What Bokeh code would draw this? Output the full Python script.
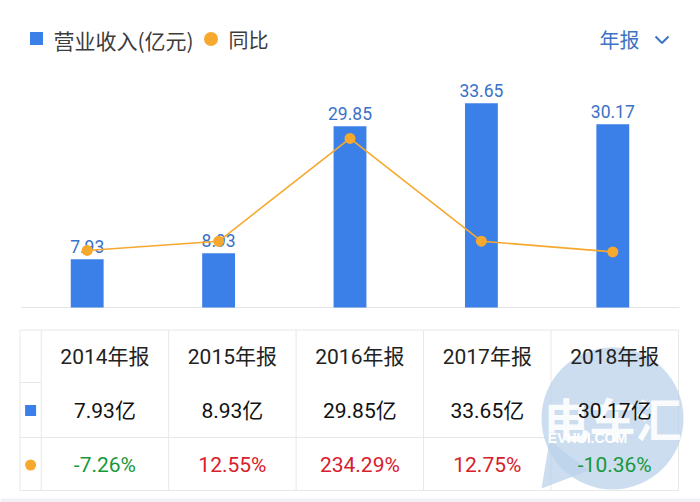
from bokeh.plotting import figure
from bokeh.models import Range1d, ColumnDataSource
from bokeh.core.properties import value
from bokeh.embed import file_html
from bokeh.resources import INLINE

# ---------------- data ----------------
years = ["2014年报", "2015年报", "2016年报", "2017年报", "2018年报"]
revenue = [7.93, 8.93, 29.85, 33.65, 30.17]          # 营业收入(亿元)
yoy = [-7.26, 12.55, 234.29, 12.75, -10.36]          # 同比 (%)

legend_bar = "营业收入(亿元)"
legend_line = "同比"
period_label = "年报"

# ---------------- layout constants (window pixels) ----------------
W, H = 700, 502
OX, OY = 0, 0
CH_L, CH_R = 21, 678
BASE_Y = 307
PX_PER_UNIT = 6.07
PCT_ZERO_Y = 246.6
PX_PER_PCT = 0.4637

CJK = value("Noto Sans CJK SC")
MIXED = value("Roboto, 'Noto Sans CJK SC'")
ROBOTO = value("Roboto")

BLUE = "#3b7fe8"
ORANGE = "#f6a92e"
GRID = "#e8e8e8"

n = len(years)
step = (CH_R - CH_L) / n

p = figure(width=W, height=H,
           x_range=Range1d((OX - CH_L) / step, (OX + W - CH_L) / step),
           y_range=Range1d(-(OY + H - BASE_Y) / PX_PER_UNIT, (BASE_Y - OY) / PX_PER_UNIT),
           output_backend="svg", toolbar_location=None, min_border=0,
           x_axis_location=None, y_axis_location=None,
           outline_line_color=None, background_fill_color="white",
           border_fill_color="white")
p.grid.visible = False
p.extra_x_ranges = {"px": Range1d(OX, OX + W)}
p.extra_y_ranges = {
    "py": Range1d(OY + H, OY),
    "pct": Range1d(-(OY + H - PCT_ZERO_Y) / PX_PER_PCT, (PCT_ZERO_Y - OY) / PX_PER_PCT),
}
PX = dict(x_range_name="px", y_range_name="py")

# bottom strip
p.quad(left=[0], right=[W], top=[498], bottom=[H], fill_color="#f1f1f5",
       line_color=None, **PX)

# ---------------- chart ----------------
xs = [i + 0.5 for i in range(n)]
src = ColumnDataSource(dict(x=xs, rev=revenue, yoy=yoy,
                            lbl=[f"{v:.2f}" for v in revenue]))

p.segment(x0=[CH_L], y0=[BASE_Y], x1=[CH_R + 1], y1=[BASE_Y], line_color="#e4e4e4",
          line_width=1, **PX)

p.vbar(x="x", top="rev", bottom=0, width=0.25, source=src,
       fill_color=BLUE, line_color=None)
p.text(x="x", y="rev", text="lbl", source=src, y_offset=-6,
       text_align="center", text_baseline="bottom", text_font=ROBOTO,
       text_font_size="17.5px", text_color="#3a71c8")

p.line(x="x", y="yoy", source=src, y_range_name="pct",
       line_color=ORANGE, line_width=1.6)
p.scatter(x="x", y="yoy", source=src, y_range_name="pct", size=11,
          fill_color=ORANGE, line_color=None)

# ---------------- legend / header ----------------
p.rect(x=[36], y=[38], width=13, height=13, fill_color=BLUE, line_color=None, **PX)
p.text(x=[53], y=[39], text=[legend_bar], text_font=CJK, text_font_size="21px",
       text_align="left", text_baseline="middle", text_color="#3c3c3c", **PX)
p.scatter(x=[210.5], y=[38.5], size=14, fill_color=ORANGE, line_color=None, **PX)
p.text(x=[228], y=[39], text=[legend_line], text_font=CJK, text_font_size="20px",
       text_align="left", text_baseline="middle", text_color="#3c3c3c", **PX)

p.text(x=[599], y=[39], text=[period_label], text_font=CJK, text_font_size="20px",
       text_align="left", text_baseline="middle", text_color="#3d74c4", **PX)
p.line(x=[655, 661.5, 668], y=[36, 42.5, 36], line_color="#3d74c4", line_width=2, **PX)

# ---------------- table ----------------
T_L, T_C0, T_R = 19.5, 40.7, 678
T_TOP, ROW_H = 329.5, 54
col_w = (T_R - T_C0) / n
v_x = [T_L, T_C0] + [T_C0 + col_w * (i + 1) for i in range(n)]
p.segment(x0=v_x, y0=[T_TOP] * len(v_x), x1=v_x, y1=[T_TOP + 3 * ROW_H - 1.5] * len(v_x),
          line_color=GRID, line_width=1, **PX)
h_y = [T_TOP, T_TOP + 2 * ROW_H - 0.5, T_TOP + 3 * ROW_H - 1.5]
p.segment(x0=[T_L] * 3, y0=h_y, x1=[T_R] * 3, y1=h_y, line_color=GRID, line_width=1, **PX)
p.segment(x0=[T_L], y0=[T_TOP + ROW_H - 1.5], x1=[T_C0], y1=[T_TOP + ROW_H - 1.5],
          line_color=GRID, line_width=1, **PX)

# watermark (under table text)
p.circle(x=[612], y=[418], radius=71, fill_color="#b9d1ea", fill_alpha=0.75,
         line_color=None, **PX)
p.patch(x=[549, 541, 588], y=[440, 488, 470], fill_color="#b9d1ea", fill_alpha=0.75,
        line_color=None, **PX)
p.text(x=[612], y=[416], text=["电车汇"], text_font=CJK, text_font_size="46px",
       text_font_style="bold", text_align="center", text_baseline="middle",
       text_color="white", text_alpha=0.92, **PX)
p.text(x=[587], y=[437], text=["EVHUI.COM"], text_font=value("Liberation Sans"),
       text_font_size="14px", text_font_style="bold", text_align="center",
       text_baseline="middle", text_color="white", text_alpha=1.0, **PX)

col_x = [T_C0 + col_w * (i + 0.5) for i in range(n)]
row_y = [356.5, 410, 464.5]
tsrc = ColumnDataSource(dict(
    x=col_x,
    hdr=years,
    val=[f"{v:.2f}亿" for v in revenue],
    pct=[f"{v:.2f}%" for v in yoy],
    pcol=["#d7212b" if v > 0 else "#17993a" for v in yoy],
))
p.text(x="x", y=row_y[0], text="hdr", source=tsrc, text_font=MIXED, text_font_size="21px",
       text_align="center", text_baseline="middle", text_color="#222222", **PX)
p.text(x="x", y=row_y[1], text="val", source=tsrc, text_font=MIXED, text_font_size="21px",
       text_align="center", text_baseline="middle", text_color="#111111", **PX)
p.text(x="x", y=row_y[2], text="pct", source=tsrc, text_font=MIXED, text_font_size="21px",
       text_align="center", text_baseline="middle", text_color="pcol", **PX)

icon_x = (T_L + T_C0) / 2
p.rect(x=[icon_x], y=[row_y[1]], width=11, height=11, fill_color=BLUE, line_color=None, **PX)
p.scatter(x=[icon_x], y=[row_y[2]], size=11, fill_color=ORANGE, line_color=None, **PX)

open("out.html", "w").write(file_html(p, INLINE))
